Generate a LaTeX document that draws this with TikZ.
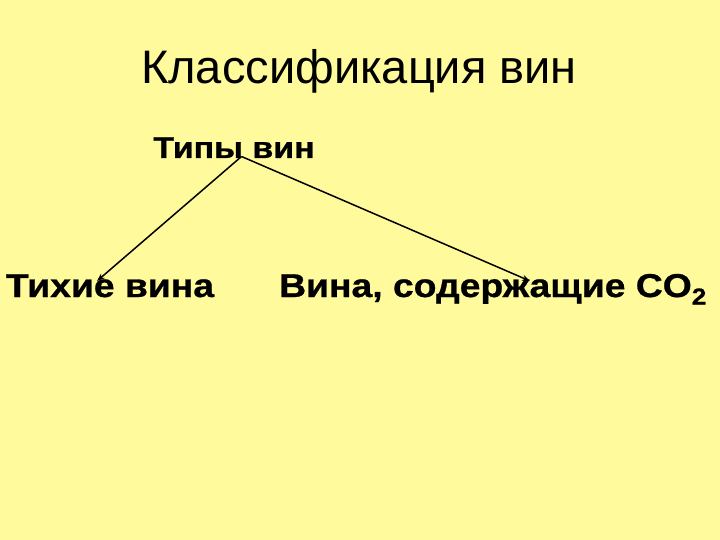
\documentclass[tikz,border=0pt]{standalone}
\usepackage{fontspec}
\setmainfont{Liberation Sans}
\newfontfamily\wideface{Liberation Sans}[FakeStretch=1.13, BoldFeatures={FakeBold=0.8}]
\usetikzlibrary{arrows.meta, positioning, calc}
\definecolor{slideyellow}{HTML}{FFFA9C}
\tikzset{
  heading/.style={font=\fontsize{47}{47}\selectfont, anchor=base, inner sep=0pt},
  typehead/.style={font=\wideface\fontsize{30}{30}\selectfont\bfseries, anchor=base, inner sep=0pt},
  winetype/.style={font=\wideface\fontsize{33}{33}\selectfont\bfseries, anchor=base, inner sep=0pt},
  branch/.style={line width=1.5pt, -{Stealth[length=8pt, width=6pt]}}
}
\begin{document}
\begin{tikzpicture}[x=1pt, y=1pt]
  \fill[slideyellow] (0,0) rectangle (720,-540);
  \useasboundingbox (0,0) rectangle (720,-540);

  % title
  \node[heading] (title) at (359,-83.5) {Классификация вин};

  % classification tree
  \node[typehead] (types) at (234,-158) {Типы вин};
  \node[winetype] (still) at (110,-297) {Тихие вина};
  \node[winetype] (sparkling) at (493,-297) {Вина, содержащие CO\textsubscript{2}};

  \coordinate (split) at (241.5,-156.5);
  \coordinate (stilltip) at (97,-281);
  \coordinate (sparklingtip) at (530,-281);

  \draw[branch] (split) -- (stilltip);
  \draw[branch] (split) -- (sparklingtip);
\end{tikzpicture}
\end{document}
